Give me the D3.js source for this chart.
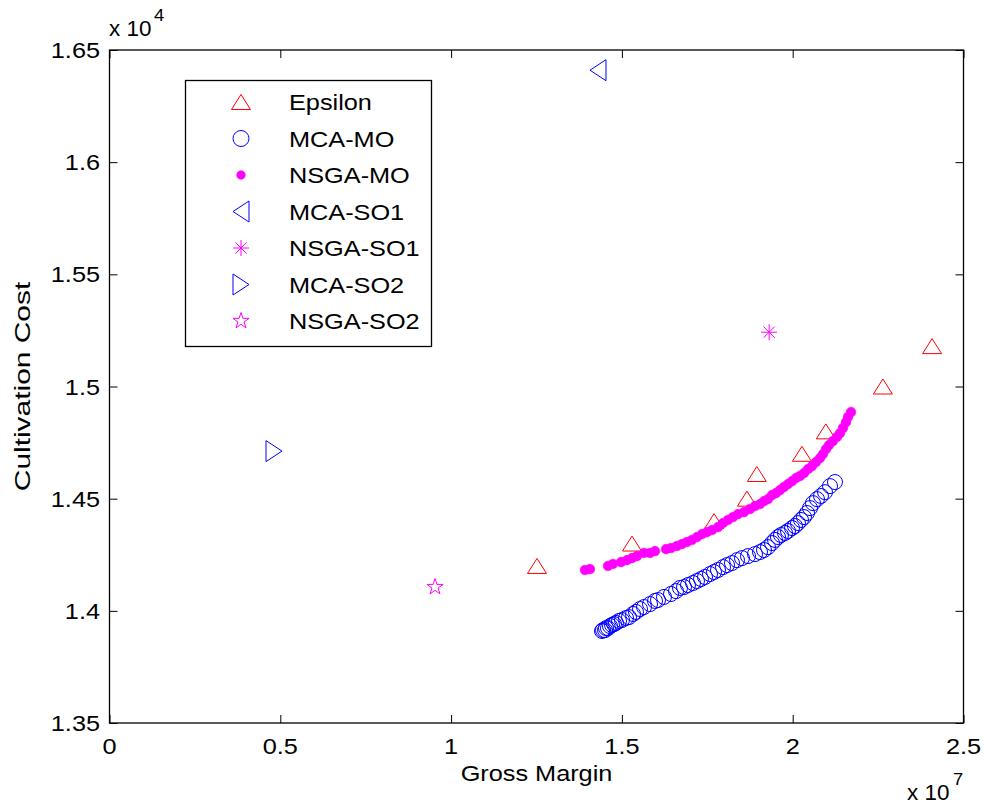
<!DOCTYPE html>
<html>
<head>
<meta charset="utf-8">
<script src="https://cdn.jsdelivr.net/npm/d3@7/dist/d3.min.js"></script>
<style>
  html, body { margin: 0; padding: 0; background: #fff; }
  svg { display: block; }
  text { font-family: "Liberation Sans", Arial, Helvetica, sans-serif; fill: #000; }
</style>
</head>
<body>
<svg id="chart" width="984" height="805"></svg>
<script>
// Gross margin in units of 1e7, cultivation cost in units of 1e4
const xTicks = [0, 0.5, 1, 1.5, 2, 2.5];
const xTickLabels = ["0", "0.5", "1", "1.5", "2", "2.5"];
const yTicks = [1.35, 1.4, 1.45, 1.5, 1.55, 1.6, 1.65];
const yTickLabels = ["1.35", "1.4", "1.45", "1.5", "1.55", "1.6", "1.65"];

const epsilonGM   = [1.2515, 1.5296, 1.7698, 1.866, 1.895, 2.027, 2.097, 2.264, 2.408];
const epsilonCost = [1.4200, 1.4300, 1.4400, 1.4500, 1.4610, 1.4700, 1.4800, 1.5000, 1.5180];

const mcaMoGM = [1.4417, 1.4447, 1.4505, 1.4535, 1.4593, 1.4652, 1.4710, 1.4769, 1.4827, 1.4915,
  1.5003, 1.5120, 1.5208, 1.5325, 1.5413, 1.5530, 1.5647, 1.5823, 1.5969, 1.6057,
  1.6232, 1.6437, 1.6584, 1.6701, 1.6818, 1.6935, 1.7081, 1.7198, 1.7316, 1.7433,
  1.7579, 1.7696, 1.7813, 1.7960, 1.8077, 1.8223, 1.8370, 1.8516, 1.8691, 1.8896,
  1.9043, 1.9160, 1.9277, 1.9394, 1.9482, 1.9570, 1.9657, 1.9775, 1.9862, 1.9980,
  2.0067, 2.0155, 2.0243, 2.0331, 2.0419, 2.0507, 2.0594, 2.0711, 2.0828, 2.0946,
  2.1092, 2.1238];
const mcaMoCost = [1.3910, 1.3914, 1.3914, 1.3923, 1.3923, 1.3932, 1.3937, 1.3941, 1.3946, 1.3955,
  1.3959, 1.3968, 1.3972, 1.3986, 1.3995, 1.4008, 1.4017, 1.4030, 1.4044, 1.4048,
  1.4062, 1.4075, 1.4088, 1.4102, 1.4106, 1.4115, 1.4124, 1.4133, 1.4142, 1.4151,
  1.4164, 1.4173, 1.4182, 1.4195, 1.4204, 1.4213, 1.4226, 1.4235, 1.4244, 1.4253,
  1.4262, 1.4271, 1.4284, 1.4302, 1.4316, 1.4329, 1.4338, 1.4347, 1.4356, 1.4369,
  1.4378, 1.4391, 1.4405, 1.4418, 1.4436, 1.4458, 1.4480, 1.4498, 1.4512, 1.4529,
  1.4556, 1.4574];

const nsgaMoGM = [1.3920, 1.4066, 1.4593, 1.4739, 1.4974, 1.5149, 1.5296, 1.5442, 1.5647, 1.5823,
  1.5969, 1.6291, 1.6437, 1.6613, 1.6759, 1.6906, 1.7052, 1.7198, 1.7345, 1.7491,
  1.7638, 1.7813, 1.7960, 1.8106, 1.8252, 1.8399, 1.8574, 1.8750, 1.8896, 1.9043,
  1.9160, 1.9277, 1.9394, 1.9511, 1.9628, 1.9745, 1.9862, 1.9980, 2.0097, 2.0214,
  2.0331, 2.0448, 2.0565, 2.0682, 2.0799, 2.0887, 2.0975, 2.1063, 2.1180, 2.1297,
  2.1385, 2.1473, 2.1560, 2.1619, 2.1707];
const nsgaMoCost = [1.4182, 1.4186, 1.4200, 1.4209, 1.4217, 1.4226, 1.4235, 1.4244, 1.4258, 1.4258,
  1.4266, 1.4275, 1.4280, 1.4289, 1.4298, 1.4307, 1.4316, 1.4329, 1.4342, 1.4351,
  1.4360, 1.4373, 1.4391, 1.4405, 1.4418, 1.4431, 1.4440, 1.4454, 1.4467, 1.4476,
  1.4489, 1.4498, 1.4516, 1.4525, 1.4538, 1.4552, 1.4565, 1.4578, 1.4592, 1.4601,
  1.4614, 1.4632, 1.4645, 1.4663, 1.4681, 1.4699, 1.4721, 1.4739, 1.4757, 1.4775,
  1.4792, 1.4815, 1.4841, 1.4864, 1.4886];

const mcaSo1GM = [1.430],  mcaSo1Cost = [1.6410];
const nsgaSo1GM = [1.931], nsgaSo1Cost = [1.5242];
const mcaSo2GM = [0.4816], mcaSo2Cost = [1.4712];
const nsgaSo2GM = [0.953], nsgaSo2Cost = [1.4106];

const legendNames = ["Epsilon", "MCA-MO", "NSGA-MO", "MCA-SO1", "NSGA-SO1", "MCA-SO2", "NSGA-SO2"];

const RED = "#ff0000", BLUE = "#0000ff", MAG = "#ff00ff";
const FONT = 22, SX = 1.15;

const svg = d3.select("#chart");
const x = d3.scaleLinear().domain([0, 2.5]).range([109.5, 963.5]);
const y = d3.scaleLinear().domain([1.35, 1.65]).range([723, 50]);

// marker shapes, centred on (0,0)
function triUp(w, h) { return `M0,${-h/2}L${w/2},${h/2}L${-w/2},${h/2}Z`; }
function triLeft(w, h) { return `M${-w/2},0L${w/2},${-h/2}L${w/2},${h/2}Z`; }
function triRight(w, h) { return `M${w/2},0L${-w/2},${-h/2}L${-w/2},${h/2}Z`; }
function asterisk(s) {
  const r = s / 2, d = r * 0.7071;
  return `M${-r},0L${r},0M0,${-r}L0,${r}M${-d},${-d}L${d},${d}M${-d},${d}L${d},${-d}`;
}
function pentagram(R) {
  const r = R * 0.382;
  let p = "";
  for (let i = 0; i < 10; i++) {
    const a = -Math.PI / 2 + i * Math.PI / 5;
    const rr = i % 2 === 0 ? R : r;
    p += (i ? "L" : "M") + (rr * Math.cos(a)).toFixed(2) + "," + (rr * Math.sin(a)).toFixed(2);
  }
  return p + "Z";
}

const markers = [
  { d: triUp(19, 15), fill: "none", stroke: RED },
  { circle: 7.5, fill: "none", stroke: BLUE },
  { circle: 4.8, fill: MAG, stroke: MAG, sw: 0.6 },
  { d: triLeft(16, 21), fill: "none", stroke: BLUE },
  { d: asterisk(16), fill: "none", stroke: MAG },
  { d: triRight(16, 21), fill: "none", stroke: BLUE },
  { d: pentagram(8.5), fill: "none", stroke: MAG }
];

function drawMarkers(g, xs, ys, m) {
  const pts = xs.map((v, i) => [x(v), y(ys[i])]);
  if (m.circle) {
    g.selectAll(null).data(pts).enter().append("circle")
      .attr("cx", d => d[0]).attr("cy", d => d[1]).attr("r", m.circle)
      .attr("fill", m.fill).attr("stroke", m.stroke).attr("stroke-width", m.sw || 1);
  } else {
    g.selectAll(null).data(pts).enter().append("path")
      .attr("d", m.d).attr("transform", d => `translate(${d[0]},${d[1]})`)
      .attr("fill", m.fill).attr("stroke", m.stroke).attr("stroke-width", m.sw || 1);
  }
}

function label(parent, tx, ty, str, anchor, size, rot, sx) {
  return parent.append("text")
    .attr("transform", `translate(${tx},${ty})` + (rot ? ` rotate(${rot})` : "") + ` scale(${sx || SX},1)`)
    .attr("text-anchor", anchor || "start")
    .attr("font-size", size || FONT)
    .text(str);
}

// axes box with inward ticks on all four sides
const axes = svg.append("g");
axes.append("rect").attr("x", x(0)).attr("y", y(1.65))
  .attr("width", x(2.5) - x(0)).attr("height", y(1.35) - y(1.65))
  .attr("fill", "none").attr("stroke", "#000").attr("stroke-width", 1.3);

const bottomAxis = d3.axisBottom(x).tickValues(xTicks).tickSizeInner(-8).tickSizeOuter(0).tickFormat("");
const topAxis = d3.axisTop(x).tickValues(xTicks).tickSizeInner(-8).tickSizeOuter(0).tickFormat("");
const leftAxis = d3.axisLeft(y).tickValues(yTicks).tickSizeInner(-8).tickSizeOuter(0).tickFormat("");
const rightAxis = d3.axisRight(y).tickValues(yTicks).tickSizeInner(-8).tickSizeOuter(0).tickFormat("");
[[bottomAxis, `translate(0,${y(1.35)})`], [topAxis, `translate(0,${y(1.65)})`],
 [leftAxis, `translate(${x(0)},0)`], [rightAxis, `translate(${x(2.5)},0)`]].forEach(([ax, tr]) => {
  const g = axes.append("g").attr("transform", tr).call(ax);
  g.select(".domain").remove();
  g.selectAll(".tick line").attr("stroke", "#000").attr("stroke-width", 1);
});

// tick labels
xTicks.forEach((v, i) => label(axes, x(v), 754, xTickLabels[i], "middle"));
yTicks.forEach((v, i) => label(axes, 100, y(v) + 8, yTickLabels[i], "end"));

// exponent annotations
label(axes, 109, 36, "x 10", "start", FONT, 0, 1.02);
label(axes, 154, 21, "4", "start", 16);
label(axes, 907, 800, "x 10", "start", FONT, 0, 1.02);
label(axes, 953, 785, "7", "start", 16);

// axis titles
label(axes, 536.5, 781, "Gross Margin", "middle");
label(axes, 30, 386.5, "Cultivation Cost", "middle", FONT, -90, 1.36);

// data series, drawn in legend order
const plot = svg.append("g");
const seriesData = [
  [epsilonGM, epsilonCost], [mcaMoGM, mcaMoCost], [nsgaMoGM, nsgaMoCost],
  [mcaSo1GM, mcaSo1Cost], [nsgaSo1GM, nsgaSo1Cost], [mcaSo2GM, mcaSo2Cost], [nsgaSo2GM, nsgaSo2Cost]
];
seriesData.forEach((s, i) => drawMarkers(plot.append("g"), s[0], s[1], markers[i]));

// legend
const leg = svg.append("g");
leg.append("rect").attr("x", 185.5).attr("y", 80.5).attr("width", 246).attr("height", 266)
  .attr("fill", "#fff").attr("stroke", "#000").attr("stroke-width", 1.3);
const rowY = d3.scalePoint().domain(legendNames).range([102, 321]);
legendNames.forEach((name, i) => {
  const cy = rowY(name);
  const m = Object.assign({}, markers[i]);
  if (i === 1) m.circle = 8;
  if (i === 2) m.circle = 4.3;
  drawMarkers(leg.append("g"), [x.invert(241)], [y.invert(cy)], m);
  label(leg, 289, cy + 8, name, "start");
});
</script>
</body>
</html>
